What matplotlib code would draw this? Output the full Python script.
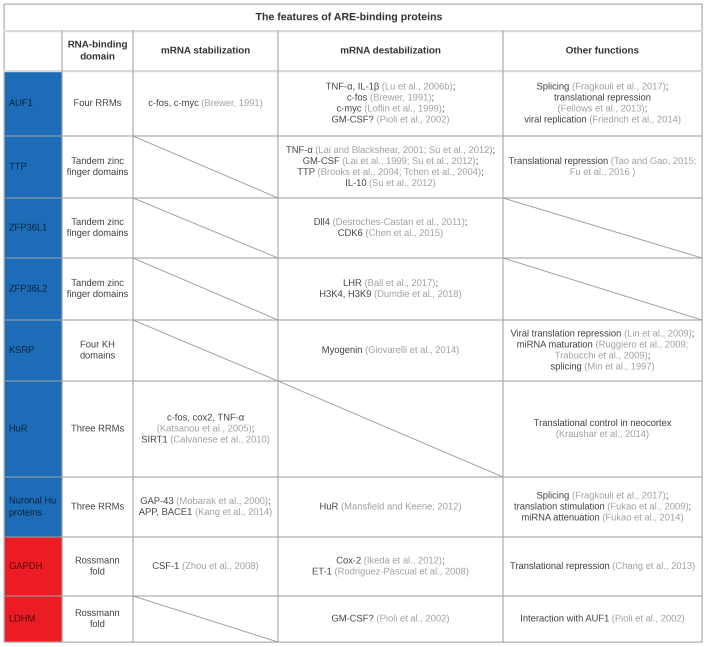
import numpy as np
import matplotlib
matplotlib.use('Agg')
import matplotlib.pyplot as plt
from matplotlib.patches import Rectangle

#Table data
title = 'The features of ARE-binding proteins'
headers = ['', 'RNA-binding\ndomain', 'mRNA stabilization', 'mRNA destabilization', 'Other functions']

proteins = ['AUF1', 'TTP', 'ZFP36L1', 'ZFP36L2', 'KSRP', 'HuR',
            'Nuronal Hu\nproteins', 'GAPDH', 'LDHM']
groups = ['ARE', 'ARE', 'ARE', 'ARE', 'ARE', 'ARE', 'ARE', 'enzyme', 'enzyme']

domains = ['Four RRMs', 'Tandem zinc\nfinger domains', 'Tandem zinc\nfinger domains',
           'Tandem zinc\nfinger domains', 'Four KH\ndomains', 'Three RRMs', 'Three RRMs',
           'Rossmann\nfold', 'Rossmann\nfold']

stabilization = [
    'c-fos, c-myc (Brewer, 1991)',
    None, None, None, None,
    'c-fos, cox2, TNF-\u03b1\n(Katsanou et al., 2005);\nSIRT1 (Calvanese et al., 2010)',
    'GAP-43 (Mobarak et al., 2000);\nAPP, BACE1 (Kang et al., 2014)',
    'CSF-1 (Zhou et al., 2008)',
    None,
]

destabilization = [
    'TNF-\u03b1, IL-1\u03b2 (Lu et al., 2006b);\nc-fos (Brewer, 1991);\nc-myc (Loflin et al., 1999);\nGM-CSF? (Pioli et al., 2002)',
    'TNF-\u03b1 (Lai and Blackshear, 2001; Su et al., 2012);\nGM-CSF (Lai et al., 1999; Su et al., 2012);\nTTP (Brooks et al., 2004; Tchen et al., 2004);\nIL-10 (Su et al., 2012)',
    'Dll4 (Desroches-Castan et al., 2011);\nCDK6 (Chen et al., 2015)',
    'LHR (Ball et al., 2017);\nH3K4, H3K9 (Dumdie et al., 2018)',
    'Myogenin (Giovarelli et al., 2014)',
    None,
    'HuR (Mansfield and Keene, 2012)',
    'Cox-2 (Ikeda et al., 2012);\nET-1 (Rodriguez-Pascual et al., 2008)',
    'GM-CSF? (Pioli et al., 2002)',
]

other_functions = [
    'Splicing (Fragkouli et al., 2017);\ntranslational repression\n(Fellows et al., 2013);\nviral replication (Friedrich et al., 2014)',
    'Translational repression (Tao and Gao, 2015;\nFu et al., 2016 )',
    None, None,
    'Viral translation repression (Lin et al., 2009);\nmiRNA maturation (Ruggiero et al., 2009;\nTrabucchi et al., 2009);\nsplicing (Min et al., 1997)',
    'Translational control in neocortex\n(Kraushar et al., 2014)',
    'Splicing (Fragkouli et al., 2017);\ntranslation stimulation (Fukao et al., 2009);\nmiRNA attenuation (Fukao et al., 2014)',
    'Translational repression (Chang et al., 2013)',
    'Interaction with AUF1 (Pioli et al., 2002)',
]

#Layout (pixels of the final picture)
W, H = 708, 647
SS = 4  #drawn 4x larger, then averaged down, so the coloured pieces line up
col_x = [4, 62, 133, 278, 503, 702]
title_y = [4, 31]
header_y = [31, 71]
row_y = [71, 136, 198, 258, 320, 381, 477, 537, 596, 642]
group_colors = {'ARE': '#1d6cb7', 'enzyme': '#ec1c24'}
dark = '#404040'
grey = '#a0a0a0'
line_c = '#a0a0a0'
fs = 6.75
fs_head = 7.1
lh = 11.0
font = 'Liberation Sans'

fig = plt.figure(figsize=(W / 100, H / 100), dpi=100 * SS)
ax = fig.add_axes([0, 0, 1, 1])
ax.set_xlim(0, W)
ax.set_ylim(H, 0)
ax.axis('off')
renderer = fig.canvas.get_renderer()


def text_width(s):
    t = ax.text(0, 0, s, fontsize=fs, family=font)
    w = t.get_window_extent(renderer).width
    t.remove()
    return w / SS


def split_segments(cell):
    #Split every line into (text, colour): citations in brackets are grey
    lines, depth = [], 0
    for line in cell.split('\n'):
        segs, cur = [], ''
        for ch in line:
            if ch == '(' and depth == 0:
                if cur:
                    segs.append((cur, dark))
                cur = ch
                depth = 1
            elif ch == ')' and depth == 1:
                cur += ch
                segs.append((cur, grey))
                cur = ''
                depth = 0
            else:
                cur += ch
        if cur:
            segs.append((cur, grey if depth else dark))
        #no piece may start with a space: hand it to the piece before
        for k in range(1, len(segs)):
            s, c = segs[k]
            stripped = s.lstrip(' ')
            if stripped != s:
                p, pc = segs[k - 1]
                segs[k - 1] = (p + ' ' * (len(s) - len(stripped)), pc)
                segs[k] = (stripped, c)
        lines.append(segs)
    return lines


def draw_cell(cell, x0, x1, y0, y1):
    lines = split_segments(cell)
    n = len(lines)
    cx = (x0 + x1) / 2
    cy = (y0 + y1) / 2
    for i, segs in enumerate(lines):
        y = cy + (i - (n - 1) / 2) * lh
        full = ''.join(s for s, c in segs)
        left = cx - text_width(full) / 2
        upto = ''
        for s, c in segs:
            upto += s
            #offset of this piece = width(all so far) - width(piece)
            off = text_width(upto) - text_width(s)
            ax.text(left + off, y, s, fontsize=fs, family=font,
                    color=c, ha='left', va='center')


#Coloured first column
for i, g in enumerate(groups):
    ax.add_patch(Rectangle((col_x[0], row_y[i]), col_x[1] - col_x[0],
                           row_y[i + 1] - row_y[i], color=group_colors[g], lw=0))
    ax.text(col_x[0] + 5, (row_y[i] + row_y[i + 1]) / 2, proteins[i], fontsize=fs,
            family=font, color='black', alpha=0.68, ha='left', va='center',
            linespacing=1.4)

#Title and header
ax.text(349, (title_y[0] + title_y[1]) / 2, title, fontsize=7.6, family=font,
        weight='bold', color='#333333', ha='center', va='center')
for j, h in enumerate(headers):
    ax.text((col_x[j] + col_x[j + 1]) / 2, (header_y[0] + header_y[1]) / 2, h,
            fontsize=fs_head, family=font, weight='bold', color='#333333',
            ha='center', va='center', linespacing=1.45)

#Body cells
columns = [domains, stabilization, destabilization, other_functions]
for j, col in enumerate(columns):
    x0, x1 = col_x[j + 1], col_x[j + 2]
    for i, cell in enumerate(col):
        y0, y1 = row_y[i], row_y[i + 1]
        if cell is None:
            ax.plot([x0, x1], [y0, y1], color=line_c, lw=0.7)
        else:
            draw_cell(cell, x0, x1, y0, y1)

#Grid lines
ax.plot([col_x[0], col_x[-1]], [title_y[1]] * 2, color='#d9d9d9', lw=1.6)
ax.plot([col_x[0], col_x[-1]], [header_y[1]] * 2, color='#d9d9d9', lw=1.6)
for y in row_y[1:-1]:
    ax.plot([col_x[0], col_x[-1]], [y, y], color=line_c, lw=0.75)
for x in col_x[1:-1]:
    ax.plot([x, x], [header_y[0], row_y[-1]], color=line_c, lw=0.75)
ax.add_patch(Rectangle((col_x[0], title_y[0]), col_x[-1] - col_x[0],
                       row_y[-1] - title_y[0], fill=False, ec='#b0b0b0', lw=0.9))

#Average the big drawing down to the final size
fig.canvas.draw()
big = np.asarray(fig.canvas.buffer_rgba())[..., :3].astype(float)
small = big.reshape(H, SS, W, SS, 3).mean(axis=(1, 3)) / 255
plt.imsave('out.png', small)
